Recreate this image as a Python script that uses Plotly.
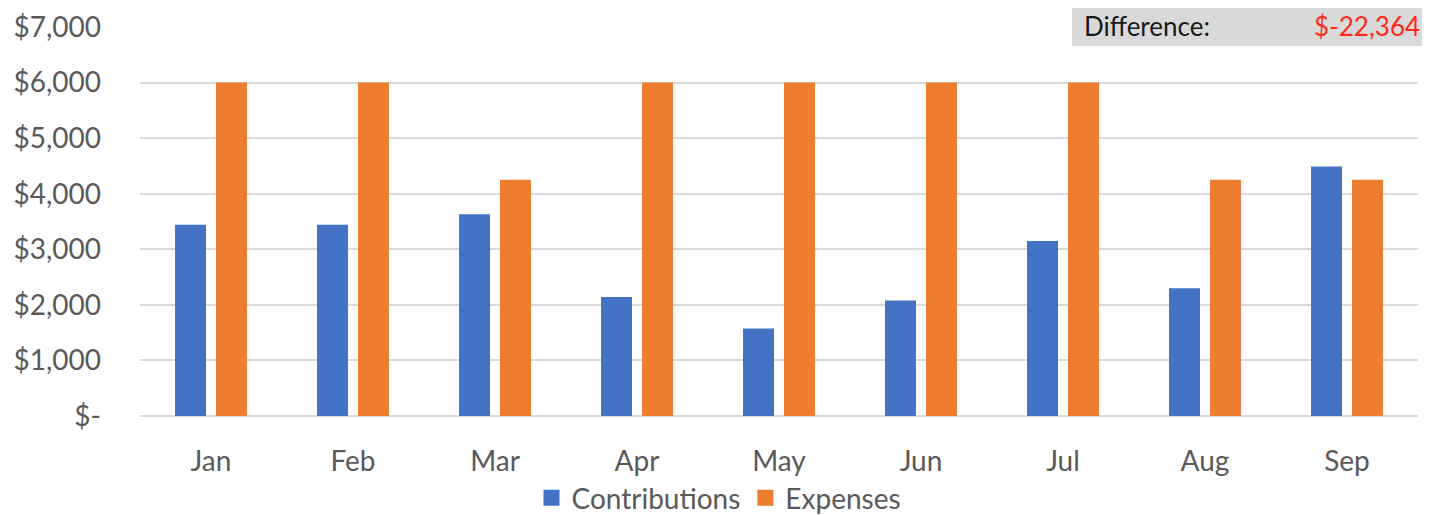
import plotly.graph_objects as go

months = ["Jan", "Feb", "Mar", "Apr", "May", "Jun", "Jul", "Aug", "Sep"]
contributions = [3440, 3440, 3630, 2140, 1575, 2080, 3150, 2300, 4490]
expenses = [6000, 6000, 4250, 6000, 6000, 6000, 6000, 4250, 4250]
y_tickvals = [0, 1000, 2000, 3000, 4000, 5000, 6000, 7000]
y_ticktext = ["$-", "$1,000", "$2,000", "$3,000", "$4,000", "$5,000", "$6,000", "$7,000"]
difference_label = "Difference:"
difference_value = "$-22,364"

FONT = "Lato"
GRAY = "#595959"
BLUE, ORANGE = "#4472C4", "#ED7D31"

# the page body keeps an 8px margin, so the figure fills the remaining window
OFF = 8
W, H = 1430 - OFF, 515 - OFF
L, R, T, B = 140 - OFF, 12, 27 - OFF, 99
PW, PH = W - L - R, H - T - B


def px(xpage):
    return (xpage - OFF - L) / PW


def py(ypage):
    return (H - B - (ypage - OFF)) / PH


fig = go.Figure()
fig.add_trace(go.Bar(name="Contributions", x=months, y=contributions, showlegend=False,
                     marker=dict(color=BLUE, line=dict(width=0))))
fig.add_trace(go.Bar(name="Expenses", x=months, y=expenses, showlegend=False,
                     marker=dict(color=ORANGE, line=dict(width=0))))
# legend entries with larger square swatches
for name, col in (("Contributions", BLUE), ("Expenses", ORANGE)):
    fig.add_trace(go.Scatter(name=name, x=[None], y=[None], mode="markers",
                             marker=dict(symbol="square", size=16, color=col)))

fig.update_layout(
    width=W, height=H, autosize=False,
    margin=dict(l=L, r=R, t=T, b=B, pad=0, autoexpand=False),
    paper_bgcolor="white", plot_bgcolor="white",
    barmode="group", bargap=0.423, bargroupgap=0.244,
    font=dict(family=FONT, color=GRAY, size=28),
    legend=dict(orientation="h", xref="container", yref="container",
                x=(719 - OFF) / W, xanchor="center", y=(515 - 498) / H, yanchor="middle",
                font=dict(size=28, color=GRAY, family=FONT), traceorder="normal",
                itemwidth=30, bgcolor="rgba(0,0,0,0)"),
    xaxis=dict(showgrid=False, showline=False, ticks="", ticklabelstandoff=26,
               automargin=False, tickfont=dict(size=28, color=GRAY, family=FONT),
               fixedrange=True),
    yaxis=dict(range=[0, 7000], tickvals=y_tickvals, ticktext=y_ticktext,
               showgrid=True, gridcolor="#D9D9D9", gridwidth=1.5,
               zeroline=True, zerolinecolor="#D9D9D9", zerolinewidth=1.5,
               showline=False, ticks="", ticklabelstandoff=38, automargin=False,
               tickfont=dict(size=28, color=GRAY, family=FONT)),
)

fig.add_shape(type="rect", xref="paper", yref="paper", x0=px(1072), x1=px(1460),
              y0=py(46), y1=py(-20), fillcolor="#D9D9D9",
              line=dict(width=0), layer="above")
fig.add_annotation(xref="paper", yref="paper", x=px(1083), y=py(9),
                   xanchor="left", yanchor="top", text=difference_label, showarrow=False,
                   borderpad=0, font=dict(family=FONT, size=26, color="#1a1a1a"))
fig.add_annotation(xref="paper", yref="paper", x=px(1421), y=py(9),
                   xanchor="right", yanchor="top", text=difference_value, showarrow=False,
                   borderpad=0, font=dict(family=FONT, size=26, color="#FF2A1A"))

fig.write_html("out.html", config={"displayModeBar": False})
